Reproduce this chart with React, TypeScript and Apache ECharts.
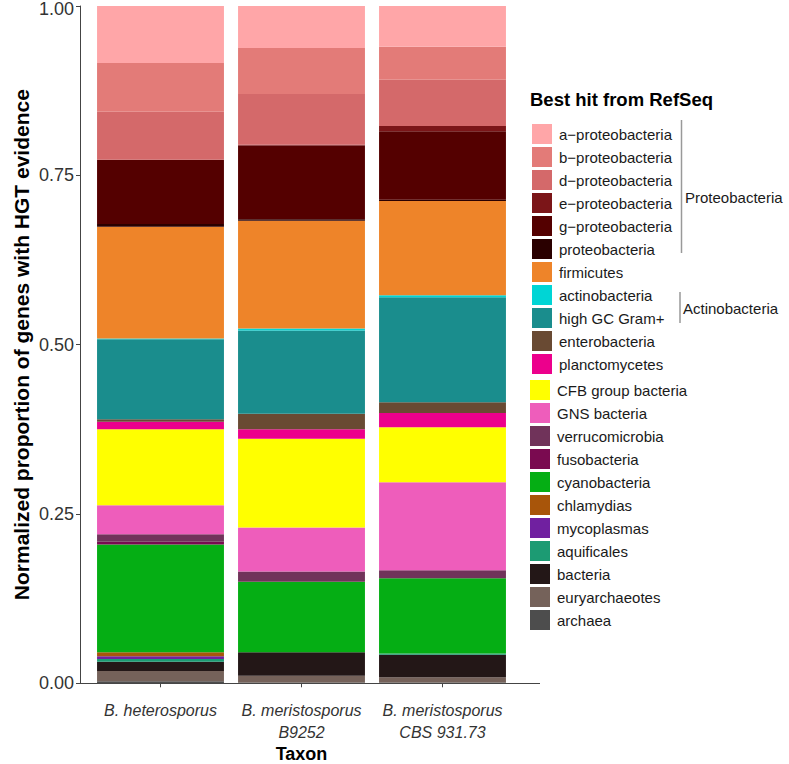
import React, { useEffect, useRef } from 'react';
import * as echarts from 'echarts';

const categories = ['B. heterosporus', 'B. meristosporus\nB9252', 'B. meristosporus\nCBS 931.73'];

// legend order (top to bottom)
const taxa = [
  'a−proteobacteria', 'b−proteobacteria', 'd−proteobacteria', 'e−proteobacteria', 'g−proteobacteria',
  'proteobacteria', 'firmicutes', 'actinobacteria', 'high GC Gram+', 'enterobacteria', 'planctomycetes',
  'CFB group bacteria', 'GNS bacteria', 'verrucomicrobia', 'fusobacteria', 'cyanobacteria', 'chlamydias',
  'mycoplasmas', 'aquificales', 'bacteria', 'euryarchaeotes', 'archaea',
];

const colors = [
  '#FFA6A8', '#E37B78', '#D4696A', '#7B1518', '#540000',
  '#2A0000', '#EE8429', '#00D5D5', '#1A8D8D', '#694A33', '#EC008C',
  '#FFFF00', '#EE5DBB', '#70335A', '#7A0A50', '#05AE14', '#A8550A',
  '#7020A0', '#1C9B73', '#231717', '#75625A', '#4D4D4D',
];

const aProteo = [0.084, 0.062, 0.060];
const bProteo = [0.072, 0.068, 0.049];
const dProteo = [0.071, 0.075, 0.068];
const eProteo = [0.0, 0.001, 0.008];
const gProteo = [0.095, 0.109, 0.101];
const proteo = [0.004, 0.002, 0.002];
const firmicutes = [0.165, 0.159, 0.139];
const actino = [0.001, 0.003, 0.003];
const highGC = [0.118, 0.123, 0.155];
const entero = [0.004, 0.023, 0.016];
const plancto = [0.011, 0.014, 0.021];
const cfb = [0.112, 0.131, 0.081];
const gns = [0.043, 0.065, 0.130];
const verruco = [0.011, 0.015, 0.012];
const fuso = [0.004, 0.0, 0.0];
const cyano = [0.159, 0.104, 0.111];
const chlamydias = [0.006, 0.0, 0.0];
const mycoplasmas = [0.004, 0.0, 0.0];
const aquificales = [0.004, 0.0, 0.002];
const bacteria = [0.014, 0.035, 0.033];
const euryarch = [0.015, 0.010, 0.008];
const archaea = [0.003, 0.001, 0.001];

const values = [
  aProteo, bProteo, dProteo, eProteo, gProteo, proteo, firmicutes, actino, highGC, entero, plancto,
  cfb, gns, verruco, fuso, cyano, chlamydias, mycoplasmas, aquificales, bacteria, euryarch, archaea,
];

const yTicks = [0, 0.25, 0.5, 0.75, 1];

const FONT = '"Liberation Sans", Arial, Helvetica, sans-serif';

export default function App() {
  const ref = useRef<HTMLDivElement>(null);
  useEffect(() => {
    if (!ref.current) return;
    const chart = echarts.init(ref.current, null, { renderer: 'svg' });
    const order = taxa.map((_, i) => i).reverse(); // bottom first
    const series = order.map((i) => ({
      name: taxa[i],
      type: 'bar',
      stack: 'total',
      barWidth: '90%',
      data: values[i],
      itemStyle: { color: colors[i] },
      emphasis: { disabled: true },
    }));
    chart.setOption({
      animation: false,
      textStyle: { fontFamily: FONT },
      grid: {
        left: 90,
        right: 276,
        top: 6,
        bottom: 80.7,
        containLabel: false,
        outerBoundsMode: 'none',
      },
      xAxis: {
        type: 'category',
        data: categories,
        axisLine: { show: false },
        axisTick: { show: true, alignWithLabel: true, length: 4, lineStyle: { color: '#444' } },
        axisLabel: {
          interval: 0,
          fontStyle: 'italic',
          fontSize: 16,
          color: '#333',
          lineHeight: 22,
          margin: 16,
          fontFamily: FONT,
        },
        name: 'Taxon',
        nameLocation: 'middle',
        nameGap: 62,
        nameMoveOverlap: false,
        nameTextStyle: { fontWeight: 'bold', fontSize: 18, lineHeight: 18, color: '#000', fontFamily: FONT },
      },
      yAxis: {
        type: 'value',
        min: 0,
        max: 1,
        interval: 0.25,
        offset: 10,
        splitLine: { show: false },
        axisLine: { show: true, lineStyle: { color: '#444', width: 1 } },
        axisTick: { show: true, length: 4, lineStyle: { color: '#444' } },
        axisLabel: {
          fontSize: 18,
          color: '#333',
          margin: 6,
          fontFamily: FONT,
          formatter: (v: number) =>
            yTicks.includes(v) ? (v === 1 ? `{t|${v.toFixed(2)}}` : v.toFixed(2)) : '',
          rich: {
            t: { fontSize: 18, color: '#333', fontFamily: FONT, padding: [5, 0, 0, 0] },
          },
        },
        name: 'Normalized proportion of genes with HGT evidence',
        nameLocation: 'middle',
        nameGap: 48,
        nameMoveOverlap: false,
        nameTextStyle: { fontWeight: 'bold', fontSize: 21, color: '#000', fontFamily: FONT },
      },
      legend: [
        {
          orient: 'vertical',
          left: 532,
          top: 124,
          padding: 0,
          itemWidth: 20,
          itemHeight: 20,
          itemGap: 3,
          icon: 'rect',
          selectedMode: false,
          data: taxa.slice(0, 11),
          textStyle: { fontSize: 15, color: '#1a1a1a', fontFamily: FONT, padding: [0, 0, 0, 2] },
        },
        {
          orient: 'vertical',
          left: 530,
          top: 380,
          padding: 0,
          itemWidth: 20,
          itemHeight: 20,
          itemGap: 3,
          icon: 'rect',
          selectedMode: false,
          data: taxa.slice(11),
          textStyle: { fontSize: 15, color: '#1a1a1a', fontFamily: FONT, padding: [0, 0, 0, 2] },
        },
      ],
      graphic: [
        {
          type: 'line',
          shape: { x1: 80, y1: 683.5, x2: 540, y2: 683.5 },
          style: { stroke: '#444', lineWidth: 1 },
        },
        {
          type: 'text',
          left: 530,
          top: 90,
          style: { text: 'Best hit from RefSeq', fill: '#000', font: `bold 18.5px ${FONT}` },
        },
        {
          type: 'line',
          shape: { x1: 681.5, y1: 120, x2: 681.5, y2: 253 },
          style: { stroke: '#999', lineWidth: 1.5 },
        },
        {
          type: 'text',
          x: 685,
          y: 197,
          style: { text: 'Proteobacteria', font: `15px ${FONT}`, fill: '#1a1a1a', textVerticalAlign: 'middle' },
        },
        {
          type: 'line',
          shape: { x1: 680, y1: 292, x2: 680, y2: 323 },
          style: { stroke: '#999', lineWidth: 1.5 },
        },
        {
          type: 'text',
          x: 683,
          y: 308,
          style: { text: 'Actinobacteria', font: `15px ${FONT}`, fill: '#1a1a1a', textVerticalAlign: 'middle' },
        },
      ],
      series,
    });
    return () => chart.dispose();
  }, []);
  return (
    <div
      ref={ref}
      style={{ position: 'fixed', left: 0, top: 0, width: 789, height: 764, background: '#fff' }}
    />
  );
}
